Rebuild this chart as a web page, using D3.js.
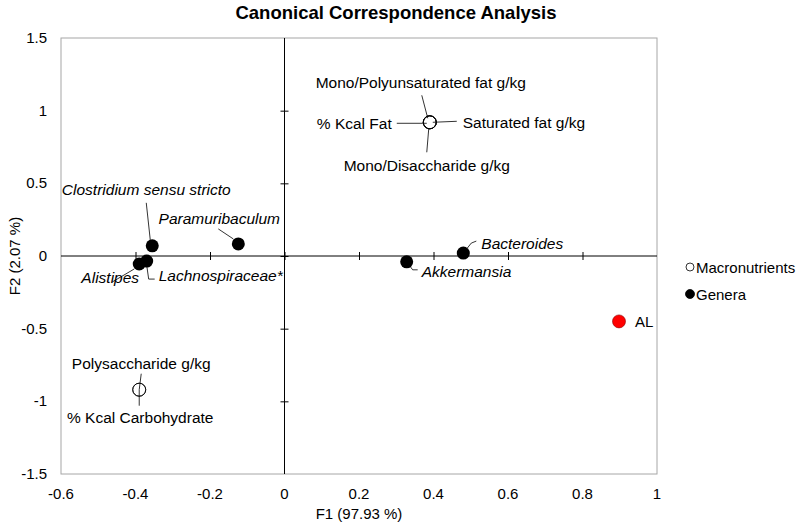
<!DOCTYPE html>
<html><head><meta charset="utf-8">
<script src="https://cdn.jsdelivr.net/npm/d3@7"></script>
<style>body{margin:0;background:#fff}svg{display:block}</style>
</head><body>
<script>
// ---- data ----
const macroNames = ["Mono/Polyunsaturated fat g/kg","% Kcal Fat","Saturated fat g/kg","Mono/Disaccharide g/kg","Polysaccharide g/kg","% Kcal Carbohydrate"];
const macroF1 = [0.39, 0.39, 0.39, 0.39, -0.39, -0.39];
const macroF2 = [0.92, 0.92, 0.92, 0.92, -0.92, -0.92];
const generaNames = ["Clostridium sensu stricto","Paramuribaculum","Alistipes","Lachnospiraceae*","Akkermansia","Bacteroides"];
const generaF1 = [-0.355, -0.124, -0.39, -0.37, 0.328, 0.48];
const generaF2 = [0.07, 0.083, -0.055, -0.035, -0.04, 0.02];
const groupNames = ["AL"];
const groupF1 = [0.898];
const groupF2 = [-0.45];
const xTicks = [-0.6,-0.4,-0.2,0,0.2,0.4,0.6,0.8,1];
const yTicks = [-1.5,-1,-0.5,0,0.5,1,1.5];
const legendItems = ["Macronutrients","Genera"];

// ---- layout (label placements in pixels relative to point) ----
const macroLayout = [
  {lx:-9,ly:-40, path:[[-8,-27],[-2,-4]], anchor:"middle"},
  {lx:-38,ly:1, path:[[-33,1],[-3,1]], anchor:"end"},
  {lx:33,ly:0, path:[[3,0],[27,-1]], anchor:"start"},
  {lx:-3,ly:43, path:[[-1,6],[-3,30]], anchor:"middle"},
  {lx:2,ly:-26, path:[[2,-16],[0,0]], anchor:"middle"},
  {lx:1,ly:28, path:[[0,0],[0,16]], anchor:"middle"}
];
const generaLayout = [
  {lx:-6,ly:-56, path:[[-6,-43],[-2,-6]], anchor:"middle"},
  {lx:-19,ly:-25, path:[[-20,-15],[-5,-5]], anchor:"middle"},
  {lx:-29,ly:14, path:[[-5,5],[-27,18]], anchor:"middle"},
  {lx:12,ly:14, path:[[0,4],[2,18],[8,18]], anchor:"start"},
  {lx:15,ly:10, path:[[3,4],[6,8],[11,8]], anchor:"start"},
  {lx:18,ly:-10, path:[[4,-5],[8,-10],[13,-12]], anchor:"start"}
];

const W=800,H=525;
const m={l:61,r:143,t:38,b:51};
const svg=d3.select("body").append("svg").attr("width",W).attr("height",H)
  .style("font-family","'Liberation Sans', Arial, sans-serif");

const x=d3.scaleLinear().domain([-0.6,1]).range([m.l,W-m.r]);
const y=d3.scaleLinear().domain([-1.5,1.5]).range([H-m.b,m.t]);
const fmt=d=>String(d);

// frame
svg.append("rect").attr("x",x(-0.6)).attr("y",y(1.5))
  .attr("width",x(1)-x(-0.6)).attr("height",y(-1.5)-y(1.5))
  .attr("fill","none").attr("stroke","#a6a6a6").attr("stroke-width",1);

// zero axes with crossing ticks
const xAxisG=svg.append("g").attr("transform",`translate(0,${y(0)})`)
  .call(d3.axisBottom(x).tickValues(xTicks.filter(d=>d>-0.6&&d<1)).tickSize(4).tickSizeOuter(0).tickFormat(""));
xAxisG.select(".domain").remove();
xAxisG.selectAll(".tick line").attr("y1",-4).attr("y2",4).attr("stroke","#000");
svg.append("line").attr("x1",x(-0.6)).attr("x2",x(1)).attr("y1",y(0)).attr("y2",y(0)).attr("stroke","#000");

const yAxisG=svg.append("g").attr("transform",`translate(${x(0)},0)`)
  .call(d3.axisLeft(y).tickValues(yTicks.filter(d=>d>-1.5&&d<1.5)).tickSize(4).tickSizeOuter(0).tickFormat(""));
yAxisG.select(".domain").remove();
yAxisG.selectAll(".tick line").attr("x1",-4).attr("x2",4).attr("stroke","#000");
svg.append("line").attr("x1",x(0)).attr("x2",x(0)).attr("y1",y(1.5)).attr("y2",y(-1.5)).attr("stroke","#000");

// tick labels
svg.append("g").selectAll("text").data(xTicks).join("text")
  .attr("x",d=>x(d)).attr("y",H-m.b+25).attr("text-anchor","middle")
  .style("font-size","15px").text(fmt);
svg.append("g").selectAll("text").data(yTicks).join("text")
  .attr("x",m.l-14).attr("y",d=>y(d)+5).attr("text-anchor","end")
  .style("font-size","15px").text(fmt);

// axis titles
svg.append("text").attr("x",(x(-0.6)+x(1))/2).attr("y",H-6).attr("text-anchor","middle")
  .style("font-size","15px").text("F1 (97.93 %)");
svg.append("text").attr("transform",`translate(20,${y(0)}) rotate(-90)`).attr("text-anchor","middle")
  .style("font-size","15px").text("F2 (2.07 %)");
svg.append("text").attr("x",396).attr("y",19).attr("text-anchor","middle")
  .style("font-weight","bold").style("font-size","18.5px")
  .text("Canonical Correspondence Analysis");

// macronutrient labels + leader lines
const macro=macroNames.map((n,i)=>({n,fx:macroF1[i],fy:macroF2[i],L:macroLayout[i]}));
const mg=svg.append("g");
macro.forEach(d=>{
  const px=x(d.fx),py=y(d.fy),L=d.L;
  mg.append("path").attr("d",d3.line()(L.path.map(p=>[px+p[0],py+p[1]])))
    .attr("fill","none").attr("stroke","#000").attr("stroke-width",0.8);
  mg.append("text").attr("x",px+L.lx).attr("y",py+L.ly+5.5).attr("text-anchor",L.anchor)
    .style("font-size","15.5px").text(d.n);
});
mg.selectAll("circle").data(macro).join("circle")
  .attr("cx",d=>x(d.fx)).attr("cy",d=>y(d.fy)).attr("r",6.5)
  .attr("fill","none").attr("stroke","#000").attr("stroke-width",0.8);

// genera
const gen=generaNames.map((n,i)=>({n,fx:generaF1[i],fy:generaF2[i],L:generaLayout[i]}));
const gg=svg.append("g");
gen.forEach(d=>{
  const px=x(d.fx),py=y(d.fy),L=d.L;
  gg.append("path").attr("d",d3.line()(L.path.map(p=>[px+p[0],py+p[1]])))
    .attr("fill","none").attr("stroke","#000").attr("stroke-width",0.8);
  gg.append("text").attr("x",px+L.lx).attr("y",py+L.ly+5.5).attr("text-anchor",L.anchor)
    .style("font-size","15.5px").style("font-style","italic").text(d.n);
});
gg.selectAll("circle").data(gen).join("circle")
  .attr("cx",d=>x(d.fx)).attr("cy",d=>y(d.fy)).attr("r",6.5).attr("fill","#000");

// AL
svg.append("g").selectAll("circle").data(groupNames).join("circle")
  .attr("cx",(d,i)=>x(groupF1[i])).attr("cy",(d,i)=>y(groupF2[i])).attr("r",6.5)
  .attr("fill","#ff0000").attr("stroke","#8b0000").attr("stroke-width",0.6);
svg.append("g").selectAll("text").data(groupNames).join("text")
  .attr("x",(d,i)=>x(groupF1[i])+16).attr("y",(d,i)=>y(groupF2[i])+5.5)
  .style("font-size","15px").text(d=>d);

// legend
const lg=svg.append("g");
legendItems.forEach((t,i)=>{
  const cy=267+i*27;
  lg.append("circle").attr("cx",690).attr("cy",cy).attr("r",i===0?4:4.5)
    .attr("fill",i===0?"#fff":"#000").attr("stroke","#000").attr("stroke-width",0.8);
  lg.append("text").attr("x",696).attr("y",cy+5.5).style("font-size","15px").text(t);
});
</script>
</body></html>
